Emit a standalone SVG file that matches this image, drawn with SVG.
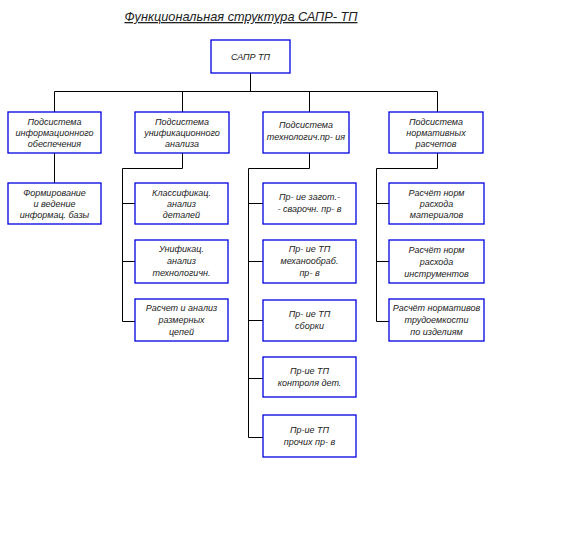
<svg xmlns="http://www.w3.org/2000/svg" width="566" height="539" viewBox="0 0 566 539">
<style>
.b{fill:#fff;stroke:#0000e0;stroke-width:1.3}
.t{font-family:"Liberation Sans",Arial,sans-serif;font-size:9px;font-style:italic;fill:#222;text-anchor:middle}
.c{fill:none;stroke:#000;stroke-width:1}
</style>
<rect width="566" height="539" fill="#fff"/>
<text x="241" y="21" style="font-family:'Liberation Sans',Arial,sans-serif;font-size:13px;font-style:italic;fill:#222;text-anchor:middle;text-decoration:underline" textLength="233" lengthAdjust="spacingAndGlyphs">Функциональная структура САПР- ТП</text>
<g id="connectors">
<path class="c" d="M250.5 73V91.5M54.5 91.5H437.5M54.5 91.5V112M182.5 91.5V112M309.5 91.5V112M437.5 91.5V112"/>
<path class="c" d="M54.5 153V183"/>
<path class="c" d="M182.5 153V168.5H122.5V321.5H135M122.5 203.5H135M122.5 261.5H135"/>
<path class="c" d="M309.5 153V168.5H248.5V437.5H263M248.5 203.5H263M248.5 261.5H263M248.5 320.5H263M248.5 378.5H263"/>
<path class="c" d="M437.5 153V168.5H376.5V321.5H389M376.5 203.5H389M376.5 261.5H389"/>
</g>
<g id="root"><rect class="b" x="211" y="40" width="79" height="33"/><text class="t" x="250.5" y="60">САПР ТП</text></g>
<g id="s1"><rect class="b" x="8" y="112" width="93" height="41"/><text class="t" x="54.5" y="125">Подсистема</text><text class="t" x="54.5" y="136">информационного</text><text class="t" x="54.5" y="147">обеспечения</text></g>
<g id="s2"><rect class="b" x="135" y="112" width="94" height="41"/><text class="t" x="182" y="125">Подсистема</text><text class="t" x="182" y="136">унификационного</text><text class="t" x="182" y="147">анализа</text></g>
<g id="s3"><rect class="b" x="263" y="112" width="86" height="41"/><text class="t" x="306" y="128">Подсистема</text><text class="t" x="306" y="140">технологич.пр- ия</text></g>
<g id="s4"><rect class="b" x="389" y="112" width="94" height="41"/><text class="t" x="436" y="125">Подсистема</text><text class="t" x="436" y="136">нормативных</text><text class="t" x="436" y="147">расчетов</text></g>
<g id="n11"><rect class="b" x="8" y="183" width="93" height="41"/><text class="t" x="54.5" y="196">Формирование</text><text class="t" x="54.5" y="207">и  ведение</text><text class="t" x="54.5" y="218">информац. базы</text></g>
<g id="n21"><rect class="b" x="135" y="183" width="93" height="41"/><text class="t" x="181.5" y="196">Классификац.</text><text class="t" x="181.5" y="207">анализ</text><text class="t" x="181.5" y="218">деталей</text></g>
<g id="n22"><rect class="b" x="135" y="240" width="93" height="43"/><text class="t" x="181.5" y="252">Унификац.</text><text class="t" x="181.5" y="264">анализ</text><text class="t" x="181.5" y="276">технологичн.</text></g>
<g id="n23"><rect class="b" x="135" y="299" width="93" height="42"/><text class="t" x="181.5" y="311">Расчет  и  анализ</text><text class="t" x="181.5" y="323">размерных</text><text class="t" x="181.5" y="335">цепей</text></g>
<g id="n31"><rect class="b" x="263" y="183" width="93" height="41"/><text class="t" x="309.5" y="200">Пр- ие загот.-</text><text class="t" x="309.5" y="212">-  сварочн. пр- в</text></g>
<g id="n32"><rect class="b" x="263" y="240" width="93" height="43"/><text class="t" x="309.5" y="252">Пр- ие ТП</text><text class="t" x="309.5" y="264">механообраб.</text><text class="t" x="309.5" y="276">пр- в</text></g>
<g id="n33"><rect class="b" x="263" y="300" width="93" height="41"/><text class="t" x="309.5" y="317">Пр- ие ТП</text><text class="t" x="309.5" y="329">сборки</text></g>
<g id="n34"><rect class="b" x="263" y="357" width="93" height="40"/><text class="t" x="309.5" y="374">Пр-ие  ТП</text><text class="t" x="309.5" y="386">контроля дет.</text></g>
<g id="n35"><rect class="b" x="263" y="415" width="93" height="42"/><text class="t" x="309.5" y="433">Пр-ие  ТП</text><text class="t" x="309.5" y="445">прочих  пр- в</text></g>
<g id="n41"><rect class="b" x="389" y="183" width="95" height="41"/><text class="t" x="436.5" y="196">Расчёт  норм</text><text class="t" x="436.5" y="207">расхода</text><text class="t" x="436.5" y="218">материалов</text></g>
<g id="n42"><rect class="b" x="389" y="240" width="95" height="43"/><text class="t" x="436.5" y="253">Расчёт норм</text><text class="t" x="436.5" y="265">расхода</text><text class="t" x="436.5" y="277">инструментов</text></g>
<g id="n43"><rect class="b" x="389" y="299" width="95" height="42"/><text class="t" x="436.5" y="311">Расчёт  нормативов</text><text class="t" x="436.5" y="323">трудоемкости</text><text class="t" x="436.5" y="335">по изделиям</text></g>
</svg>
